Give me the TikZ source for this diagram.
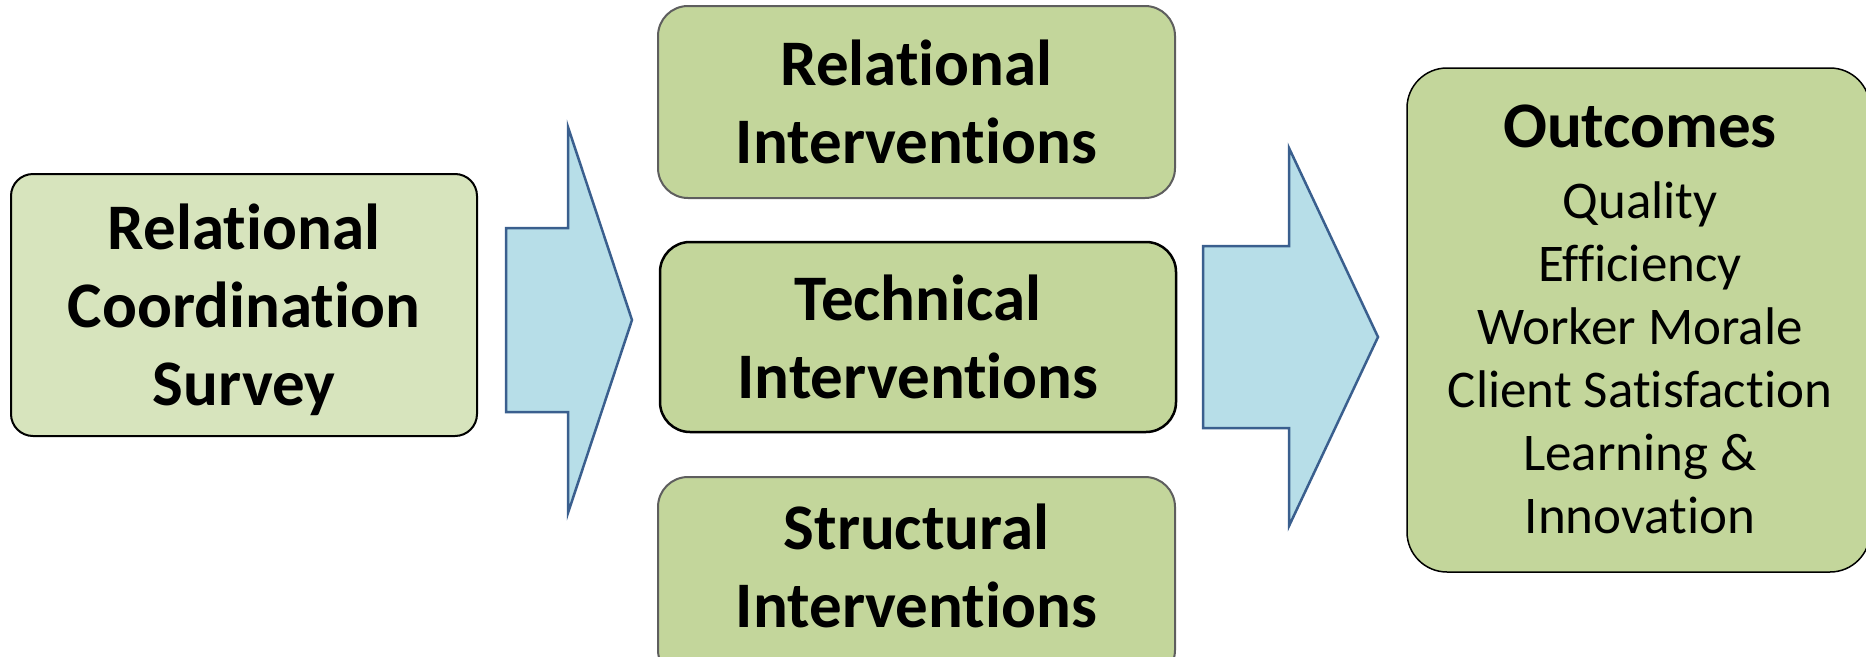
\documentclass[tikz,border=0pt]{standalone}
\usepackage{fontspec}
\setmainfont{Carlito}[Ligatures=CommonOff]
\definecolor{lightgreen}{HTML}{D7E4BD}
\definecolor{midgreen}{HTML}{C3D69B}
\definecolor{arrowfill}{HTML}{B7DEE8}
\definecolor{arrowline}{HTML}{3A5F8E}
\definecolor{boxgray}{HTML}{5E5E5E}
\begin{document}
\begin{tikzpicture}[x=1pt,y=-1pt,
  box/.style={rectangle, inner sep=0pt, align=center,
    font=\bfseries\fontsize{65}{78}\selectfont},
  midbox/.style={box, fill=midgreen, draw=boxgray, line width=2pt, rounded corners=30pt,
    minimum width=517pt, minimum height=192pt},
  blockarrow/.style={fill=arrowfill, draw=arrowline, line width=2.5pt, line join=miter},
  outline/.style={anchor=base, font=\fontsize{53}{63}\selectfont}]
\useasboundingbox (0,0) rectangle (1866,656);
% left box
\node[box, fill=lightgreen, draw=black, line width=2pt, rounded corners=22pt,
  minimum width=466pt, minimum height=262pt] (surveybox) at (244,305) {};
\node[box] (survey) at (244,310) {Relational\\Coordination\\Survey};
% arrow 1
\draw[blockarrow] (506,228) -- (568,228) -- (568,127) -- (632,320) -- (568,513)
  -- (568,412) -- (506,412) -- cycle;
% middle boxes
\node[midbox] (relational) at (916.5,102) {Relational\\Interventions};
\node[midbox, draw=black, line width=2.5pt, minimum width=516pt, minimum height=190pt]
  (technical) at (918,337) {Technical\\Interventions};
\node[midbox, minimum height=203pt] (structuralbox) at (916.5,578.5) {};
\node[box] (structural) at (916.5,566) {Structural\\Interventions};
% arrow 2
\draw[blockarrow] (1203,246) -- (1289,246) -- (1289,148) -- (1378,337) -- (1289,526)
  -- (1289,428) -- (1203,428) -- cycle;
% outcomes box
\node[box, fill=midgreen, draw=black, line width=1.5pt, rounded corners=40pt,
  minimum width=463pt, minimum height=504pt] (outcomes) at (1638.5,320) {};
\node[box, anchor=base] (outtitle) at (1640,147) {Outcomes};
\node[outline] (o1) at (1640,218) {Quality};
\node[outline] (o2) at (1640,281) {Efficiency};
\node[outline] (o3) at (1640,344) {Worker Morale};
\node[outline] (o4) at (1640,407) {Client Satisfaction};
\node[outline] (o5) at (1640,470) {Learning \&};
\node[outline] (o6) at (1640,533) {Innovation};
\end{tikzpicture}
\end{document}
